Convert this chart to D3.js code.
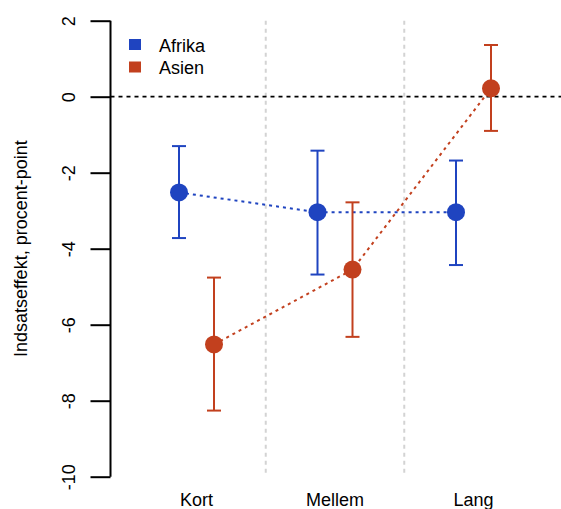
<!DOCTYPE html>
<html>
<head>
<meta charset="utf-8">
<script src="https://cdn.jsdelivr.net/npm/d3@7"></script>
<style>
  html, body { margin: 0; padding: 0; background: #fff; }
  svg { display: block; font-family: "Liberation Sans", Arial, sans-serif; }
</style>
</head>
<body>
<svg id="chart" width="561" height="509"></svg>
<script>
// ---- data ----
const categories = ["Kort", "Mellem", "Lang"];
const seriesNames = ["Afrika", "Asien"];
const afrikaValues = [-2.52, -3.04, -3.04];
const afrikaLower  = [-3.72, -4.68, -4.43];
const afrikaUpper  = [-1.30, -1.42, -1.68];
const asienValues  = [-6.52, -4.55, 0.22];
const asienLower   = [-8.26, -6.32, -0.90];
const asienUpper   = [-4.76, -2.78, 1.36];
const yTicks = [2, 0, -2, -4, -6, -8, -10];
const yTitle = "Indsatseffekt, procent-point";

const colors = { "Afrika": "#1f44c0", "Asien": "#c2401e" };

const series = [
  { name: "Afrika", values: afrikaValues, lo: afrikaLower, hi: afrikaUpper, offset: -17.5 },
  { name: "Asien",  values: asienValues,  lo: asienLower,  hi: asienUpper,  offset: 17.5 }
];

const svg = d3.select("#chart");

const y = d3.scaleLinear().domain([-10, 2]).range([476.7, 20.7]);
const x = d3.scalePoint().domain(categories).range([196.5, 473.5]);
const step = x.step();
const axisX = 110.5;

// vertical dashed separators between categories
const seps = [x(categories[0]) + step / 2, x(categories[1]) + step / 2];
svg.selectAll("line.sep").data(seps).enter().append("line")
  .attr("class", "sep")
  .attr("x1", d => d).attr("x2", d => d)
  .attr("y1", y(2)).attr("y2", y(-10))
  .attr("stroke", "#d3d3d3").attr("stroke-width", 2)
  .attr("stroke-dasharray", "4,4");

// zero line
svg.append("line")
  .attr("x1", axisX).attr("x2", 561)
  .attr("y1", y(0)).attr("y2", y(0))
  .attr("stroke", "#000").attr("stroke-width", 1.8)
  .attr("stroke-dasharray", "4,4");

// y axis
const yAxis = d3.axisLeft(y).tickValues(yTicks).tickSize(20).tickFormat(d3.format("d"));
const gy = svg.append("g").attr("transform", `translate(${axisX},0)`).call(yAxis);
gy.select(".domain").attr("stroke", "#000").attr("stroke-width", 2).attr("d", `M0,${y(2)}V${y(-10)}`);
gy.selectAll(".tick line").attr("stroke", "#000").attr("stroke-width", 2);
gy.selectAll(".tick text").each(function(d) {
  d3.select(this)
    .attr("x", null).attr("y", null).attr("dy", null)
    .attr("transform", "translate(-36,0) rotate(-90)")
    .attr("text-anchor", "middle")
    .attr("font-size", 18).attr("fill", "#000")
    .attr("font-family", "Liberation Sans, Arial, sans-serif")
    .text(String(d));
});

// y title
svg.append("text")
  .attr("transform", `translate(27,${(y(2) + y(-10)) / 2}) rotate(-90)`)
  .attr("text-anchor", "middle")
  .attr("font-size", 18)
  .attr("fill", "#000")
  .text(yTitle);

// x labels
svg.selectAll("text.xl").data(categories).enter().append("text")
  .attr("class", "xl")
  .attr("x", d => x(d)).attr("y", 506)
  .attr("text-anchor", "middle")
  .attr("font-size", 18)
  .attr("fill", "#000")
  .text(d => d);

// series
series.forEach(s => {
  const col = colors[s.name];
  const g = svg.append("g");
  const pts = categories.map((c, i) => ({ c, v: s.values[i], lo: s.lo[i], hi: s.hi[i] }));
  const px = d => x(d.c) + s.offset;
  g.append("path")
    .datum(pts)
    .attr("fill", "none")
    .attr("stroke", col).attr("stroke-width", 2)
    .attr("stroke-dasharray", "3,4")
    .attr("d", d3.line().x(px).y(d => y(d.v)));
  g.selectAll("line.eb").data(pts).enter().append("line")
    .attr("x1", px).attr("x2", px)
    .attr("y1", d => y(d.lo)).attr("y2", d => y(d.hi))
    .attr("stroke", col).attr("stroke-width", 2);
  ["lo", "hi"].forEach(k => {
    g.selectAll("line.cap" + k).data(pts).enter().append("line")
      .attr("x1", d => px(d) - 7).attr("x2", d => px(d) + 7)
      .attr("y1", d => y(d[k])).attr("y2", d => y(d[k]))
      .attr("stroke", col).attr("stroke-width", 2);
  });
  g.selectAll("circle").data(pts).enter().append("circle")
    .attr("cx", px).attr("cy", d => y(d.v)).attr("r", 9)
    .attr("fill", col);
});

// legend
const leg = svg.append("g");
seriesNames.forEach((n, i) => {
  const cy = 44.5 + i * 22.5;
  leg.append("rect").attr("x", 129).attr("y", cy - 5.5).attr("width", 12).attr("height", 11).attr("fill", colors[n]);
  leg.append("text").attr("x", 159).attr("y", cy + 7).attr("font-size", 18).attr("fill", "#000").text(n);
});
</script>
</body>
</html>
